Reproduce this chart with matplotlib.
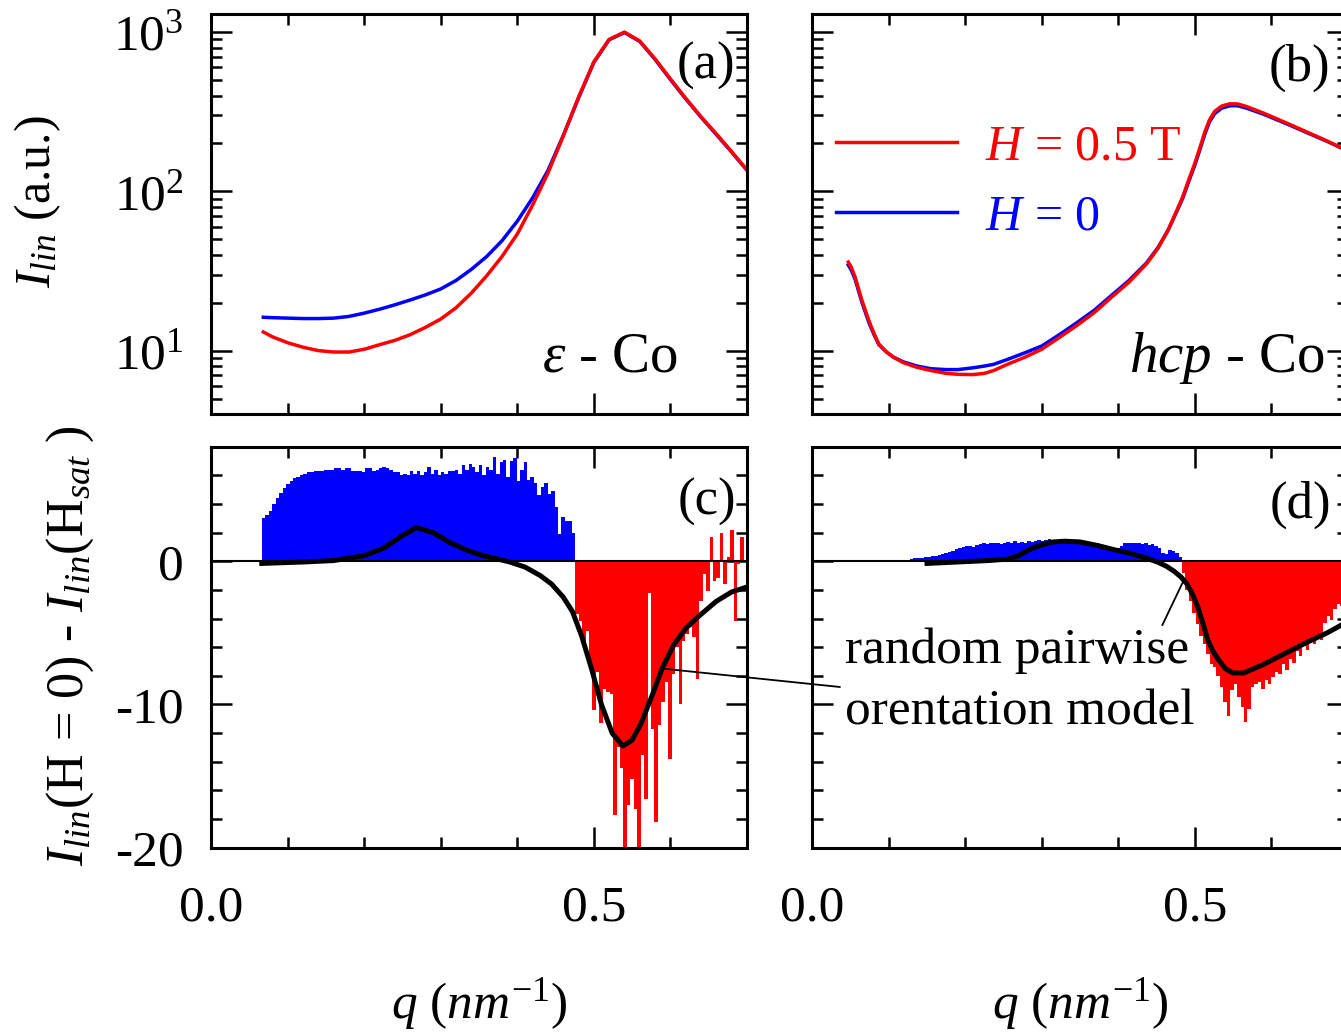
import numpy as np
import matplotlib
matplotlib.use("Agg")
import matplotlib.pyplot as plt
from matplotlib.ticker import FixedLocator, FormatStrFormatter, FixedFormatter, NullFormatter, LogFormatterSciNotation
from matplotlib.patches import ConnectionPatch

# ---------------- data ----------------
# (a) epsilon-Co intensity
q_a = [0.068, 0.08, 0.10, 0.12, 0.14, 0.16, 0.18, 0.20, 0.22, 0.24, 0.26, 0.28,
       0.30, 0.32, 0.34, 0.36, 0.38, 0.40, 0.42, 0.44, 0.46, 0.48, 0.50, 0.52,
       0.54, 0.56, 0.58, 0.60, 0.62, 0.64, 0.66, 0.68, 0.70]
I_a_sat = [13.1, 12.2, 11.2, 10.5, 10.0, 9.8, 9.8, 10.2, 10.9, 11.6, 12.6, 14.0,
           15.8, 18.6, 23.0, 29.5, 39.0, 54.0, 82.0, 130.0, 222.0, 390.0, 650.0, 900.0,
           1000.0, 880.0, 680.0, 510.0, 385.0, 295.0, 230.0, 178.0, 137.0]
I_a_zero = [16.2, 16.1, 16.0, 15.9, 15.9, 16.0, 16.4, 17.2, 18.2, 19.4, 20.8, 22.4,
            24.4, 27.6, 32.4, 39.0, 49.0, 65.0, 91.0, 135.0, 224.0, 385.0, 645.0, 895.0,
            995.0, 875.0, 675.0, 505.0, 382.0, 293.0, 228.0, 177.0, 136.0]

# (b) hcp-Co intensity
q_b = [0.047, 0.051, 0.056, 0.065, 0.074, 0.081, 0.087, 0.097, 0.106, 0.119, 0.137,
       0.155, 0.175, 0.19, 0.21, 0.225, 0.237, 0.255, 0.278, 0.30, 0.323, 0.346,
       0.369, 0.391, 0.414, 0.437, 0.452, 0.465, 0.476, 0.484, 0.492, 0.50, 0.507,
       0.513, 0.519, 0.526, 0.535, 0.546, 0.556, 0.567, 0.59, 0.619, 0.65, 0.675, 0.70]
I_b_sat = [36.0, 33.4, 28.9, 20.6, 15.4, 12.7, 11.0, 9.8, 9.1, 8.4, 7.85,
           7.5, 7.2, 7.1, 7.07, 7.2, 7.5, 8.2, 9.1, 10.2, 12.1, 14.4,
           17.4, 21.6, 26.9, 35.1, 44.0, 57.0, 75.0, 92.0, 118.0, 150.0, 190.0,
           235.0, 280.0, 318.0, 343.0, 355.0, 354.0, 342.0, 310.0, 270.0, 232.0, 205.0, 180.0]
I_b_zero = [34.5, 32.0, 28.0, 20.0, 15.0, 12.5, 10.9, 9.8, 9.1, 8.5, 8.0,
            7.7, 7.6, 7.6, 7.8, 8.0, 8.2, 8.8, 9.7, 10.7, 12.6, 15.0,
            18.0, 22.2, 27.6, 35.6, 44.5, 57.0, 74.0, 90.0, 115.0, 146.0, 185.0,
            228.0, 272.0, 308.0, 333.0, 345.0, 345.0, 334.0, 305.0, 267.0, 230.0, 204.0, 179.0]

# (c) difference I(H=0) - I(Hsat) for epsilon-Co, binned in q
dq = 0.0045
q0_c_pos = 0.0685
dI_c_pos = [3.0, 3.2, 3.5, 4.0, 4.4, 4.8, 5.1, 5.4, 5.6, 5.8, 5.9, 6.0, 6.1, 6.2, 6.2,
            6.3, 6.3, 6.3, 6.4, 6.4, 6.4, 6.5, 6.5, 6.4, 6.5, 6.5, 6.3, 6.3, 6.3, 6.2,
            6.5, 6.5, 6.3, 6.4, 6.5, 6.6, 6.5, 6.4, 6.2, 6.2, 6.0, 6.1, 6.0, 6.3, 6.1,
            6.3, 6.0, 6.2, 6.6, 6.1, 6.4, 6.0, 6.2, 6.1, 6.3, 6.3, 6.4, 6.1, 6.7, 6.4,
            6.8, 6.6, 6.2, 6.7, 6.0, 6.6, 6.4, 7.3, 6.1, 6.9, 7.1, 5.9, 7.0, 7.2, 5.6,
            6.4, 6.9, 5.7, 5.9, 5.5, 4.6, 5.2, 5.5, 4.7, 4.9, 3.8, 1.9, 3.1, 2.8, 2.8,
            2.0]
q0_c_neg = 0.478
dI_c_neg = [-3.7, -4.2, -5.6, -4.9, -7.5, -10.4, -7.7, -11.3, -8.9, -9.1, -9.3,
            -17.7, -13.0, -14.4, -20.5, -17.0, -15.2, -17.3, -20.5, -13.5, -16.6, -2.2,
            -11.7, -18.2, -11.4, -9.8, -8.4, -13.8, -7.9, -6.0, -10.0, -5.6, -5.1,
            -4.6, -5.3, -8.2, -2.8, -0.9, -2.1, 1.7, -1.4, -1.2, 2.0, -1.6, 0.3, 2.2,
            -4.2, -0.2, 1.7]
q_c_model = [0.066, 0.12, 0.16, 0.20, 0.225, 0.25, 0.268, 0.29, 0.312, 0.335, 0.355,
             0.375, 0.39, 0.41, 0.43, 0.445, 0.46, 0.472, 0.484, 0.497, 0.51, 0.524,
             0.538, 0.55, 0.562, 0.576, 0.59, 0.605, 0.62, 0.638, 0.66, 0.68, 0.70]
dI_c_model = [-0.15, -0.05, 0.05, 0.4, 0.9, 1.8, 2.35, 2.0, 1.3, 0.75, 0.4, 0.15,
              -0.05, -0.4, -1.0, -1.6, -2.5, -3.5, -5.2, -7.5, -10.0, -12.0, -12.9,
              -12.5, -11.3, -9.4, -7.4, -5.8, -4.7, -3.8, -2.8, -2.15, -1.8]

# (d) difference for hcp-Co
q0_d_pos = 0.1255
dI_d_pos = [0.1, 0.15, 0.2, 0.2, 0.25, 0.3, 0.3, 0.35, 0.4, 0.45, 0.5, 0.55, 0.65,
            0.75, 0.85, 0.9, 1.0, 1.05, 1.1, 1.0, 1.15, 1.2, 1.25, 1.2, 1.3, 1.25, 1.3,
            1.2, 1.3, 1.35, 1.3, 1.4, 1.3, 1.35, 1.3, 1.4, 1.35, 1.45, 1.5, 1.45, 1.5,
            1.55, 1.5, 1.45, 1.5, 1.45, 1.4, 1.45, 1.35, 1.4, 1.3, 1.35, 1.2, 1.3, 1.2,
            1.25, 1.1, 0.95, 0.85, 0.75, 0.8, 0.95, 1.1, 1.25, 1.3, 1.25, 1.3, 1.25,
            1.2, 1.3, 1.15, 1.2, 1.1, 0.9, 0.55, 0.5, 0.8, 0.75, 0.6, 0.3]
q0_d_neg = 0.4855
dI_d_neg = [-0.8, -2.0, -2.8, -3.6, -4.4, -5.2, -5.8, -6.5, -7.2, -7.4, -8.0, -8.8,
            -9.8, -10.8, -9.0, -8.6, -9.5, -10.2, -11.2, -10.3, -8.8, -8.6, -8.4, -8.9,
            -8.3, -8.6, -8.1, -7.7, -7.9, -7.2, -7.6, -6.8, -7.1, -6.3, -6.6, -5.9,
            -6.2, -5.4, -5.8, -5.2, -5.5, -4.3, -3.8, -4.1, -3.3, -3.0, -3.1, -2.8]
q_d_model = [0.150, 0.19, 0.23, 0.255, 0.27, 0.285, 0.30, 0.315, 0.33, 0.35, 0.373,
             0.395, 0.416, 0.435, 0.451, 0.463, 0.473, 0.482, 0.490, 0.497, 0.504,
             0.511, 0.517, 0.524, 0.530, 0.540, 0.550, 0.564, 0.577, 0.59, 0.612,
             0.634, 0.653, 0.673, 0.69, 0.70]
dI_d_model = [-0.15, -0.05, 0.05, 0.15, 0.4, 0.85, 1.15, 1.35, 1.4, 1.35, 1.1, 0.8,
              0.55, 0.25, -0.05, -0.35, -0.7, -1.1, -1.6, -2.3, -3.2, -4.4, -5.5, -6.3,
              -6.8, -7.5, -7.8, -7.8, -7.5, -7.2, -6.6, -6.0, -5.5, -5.0, -4.5, -4.2]

x_ticks = [0.0, 0.5]
x_minor = [0.1, 0.2, 0.3, 0.4, 0.6]
log_ticks = [10, 100, 1000]
log_minor = [5, 6, 7, 8, 9, 20, 30, 40, 50, 60, 70, 80, 90,
             200, 300, 400, 500, 600, 700, 800, 900]
lin_ticks = [-20, -10, 0]
lin_tick_labels = ["-20", "-10", "0"]
lin_minor = [-18, -16, -14, -12, -8, -6, -4, -2, 2, 4, 6]

RED = "#ff0000"
BLUE = "#0000ff"

# ---------------- style ----------------
plt.rcParams.update({
    "font.family": ["Liberation Serif", "DejaVu Serif"],
    "mathtext.fontset": "custom",
    "mathtext.rm": "Liberation Serif",
    "mathtext.it": "Liberation Serif:italic",
    "mathtext.bf": "Liberation Serif:bold",
    "axes.unicode_minus": False,
})

W, H = 1341, 1035
fig = plt.figure(figsize=(W / 100, H / 100), dpi=100)
fig.patch.set_facecolor("white")


def add_axes_px(x0, y0, x1, y1):
    return fig.add_axes([x0 / W, 1 - y1 / H, (x1 - x0) / W, (y1 - y0) / H])


ax_a = add_axes_px(211.3, 14, 746.8, 414)
ax_b = add_axes_px(812.3, 14, 1347.8, 414)
ax_c = add_axes_px(211.3, 446.7, 746.8, 847.7)
ax_d = add_axes_px(812.3, 446.7, 1347.8, 847.7)


def style(ax):
    for s in ax.spines.values():
        s.set_linewidth(2.2)
    ax.tick_params(which="both", direction="in", top=True, right=True,
                   width=1.8, labelsize=37, pad=20)
    ax.tick_params(axis="x", pad=27)
    ax.tick_params(which="major", length=15)
    ax.tick_params(which="minor", length=8)
    ax.set_xlim(0, 0.7)
    ax.xaxis.set_major_locator(FixedLocator(x_ticks))
    ax.xaxis.set_minor_locator(FixedLocator(x_minor))
    ax.xaxis.set_major_formatter(FormatStrFormatter("%.1f"))


for ax in (ax_a, ax_b, ax_c, ax_d):
    style(ax)

# top row: log intensity
for ax in (ax_a, ax_b):
    ax.set_yscale("log")
    ax.set_ylim(4, 1300)
    ax.yaxis.set_major_locator(FixedLocator(log_ticks))
    ax.yaxis.set_minor_locator(FixedLocator(log_minor))
    ax.yaxis.set_minor_formatter(NullFormatter())
    ax.tick_params(axis="x", labelbottom=False)
ax_a.yaxis.set_major_formatter(LogFormatterSciNotation())
ax_b.tick_params(axis="y", labelleft=False)

ax_a.plot(q_a, I_a_zero, color=BLUE, lw=2.5)
ax_a.plot(q_a, I_a_sat, color=RED, lw=2.5)
line_zero, = ax_b.plot(q_b, I_b_zero, color=BLUE, lw=2.5)
line_sat, = ax_b.plot(q_b, I_b_sat, color=RED, lw=2.5)

ax_a.set_ylabel(r"$I_{lin}$ (a.u.)", fontsize=36)
ax_a.yaxis.set_label_coords(-0.277, 0.53)

ax_a.text(0.978, 0.87, "(a)", transform=ax_a.transAxes, ha="right", va="center", fontsize=38)
ax_b.text(0.967, 0.865, "(b)", transform=ax_b.transAxes, ha="right", va="center", fontsize=38)
ax_a.text(0.8715, 0.105, r"$\varepsilon$ - Co", transform=ax_a.transAxes,
          ha="right", va="baseline", fontsize=41)
ax_b.text(0.957, 0.105, r"$hcp$ - Co", transform=ax_b.transAxes,
          ha="right", va="baseline", fontsize=41)

ax_b.legend([line_sat, line_zero], [r"$H$ = 0.5 T", r"$H$ = 0"],
            loc="upper left", bbox_to_anchor=(836 / W, 1 - 124 / H),
            bbox_transform=fig.transFigure, frameon=False, fontsize=36,
            handlelength=2.42, handletextpad=0.56, labelspacing=0.46,
            borderpad=0, borderaxespad=0, labelcolor=[RED, BLUE])

# bottom row: difference
for ax in (ax_c, ax_d):
    ax.set_ylim(-20, 8)
    ax.yaxis.set_major_locator(FixedLocator(lin_ticks))
    ax.yaxis.set_minor_locator(FixedLocator(lin_minor))
    ax.axhline(0, color="black", lw=1.5, zorder=3)
    ax.set_xlabel(r"$q$ ($nm^{-1}$)", fontsize=37)
    ax.xaxis.set_label_coords(0.5, -0.32)
ax_c.yaxis.set_major_formatter(FixedFormatter(lin_tick_labels))
ax_d.tick_params(axis="y", labelleft=False)


def bars(ax, q0, vals, color):
    q = q0 + dq * np.arange(len(vals))
    ax.bar(q, vals, width=dq, color=color, linewidth=0, zorder=2)


bars(ax_c, q0_c_pos, dI_c_pos, BLUE)
bars(ax_c, q0_c_neg, dI_c_neg, RED)
bars(ax_d, q0_d_pos, dI_d_pos, BLUE)
bars(ax_d, q0_d_neg, dI_d_neg, RED)
ax_c.plot(q_c_model, dI_c_model, color="black", lw=3.6, zorder=4)
ax_d.plot(q_d_model, dI_d_model, color="black", lw=3.6, zorder=4)

ax_c.set_ylabel(r"$I_{lin}$(H = 0) - $I_{lin}$(H$_{sat}$ )", fontsize=37.5)
ax_c.yaxis.set_label_coords(-0.215, 0.505)

ax_c.text(0.98, 0.862, "(c)", transform=ax_c.transAxes, ha="right", va="center", fontsize=38)
ax_d.text(0.969, 0.855, "(d)", transform=ax_d.transAxes, ha="right", va="center", fontsize=38)

# model annotation with leader lines to both panels
ax_d.annotate("random pairwise\norentation model", xy=(0.484, -1.5), xycoords="data",
              xytext=(845, H - 628), textcoords="figure pixels",
              ha="left", va="top", fontsize=37, linespacing=1.4,
              arrowprops=dict(arrowstyle="-", lw=1.3, color="black",
                              shrinkA=0, shrinkB=0, relpos=(0.904, 1.0)),
              annotation_clip=False, zorder=6)
con = ConnectionPatch(xyA=(0.591, -7.5), coordsA=ax_c.transData,
                      xyB=(840, H - 687), coordsB="figure pixels",
                      lw=1.3, color="black", zorder=6)
fig.add_artist(con)

fig.savefig("out.png", dpi=100, facecolor="white")
